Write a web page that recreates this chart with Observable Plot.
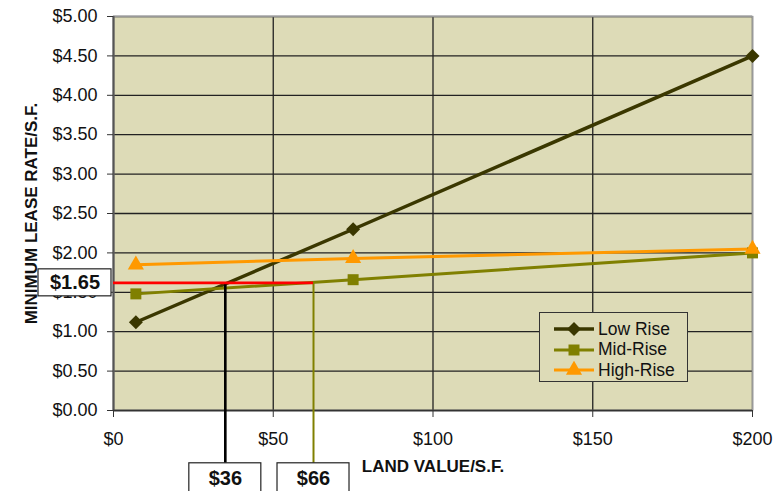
<!DOCTYPE html>
<html><head><meta charset="utf-8">
<script src="https://cdn.jsdelivr.net/npm/d3@7"></script>
<script src="https://cdn.jsdelivr.net/npm/@observablehq/plot@0.6"></script>
<style>
body{margin:0;background:#fff;font-family:"Liberation Sans",Arial,sans-serif}
#wrap{position:relative;width:783px;height:491px;overflow:hidden}
#legend{position:absolute;left:539px;top:312px;width:147px;height:68px;border:1px solid #333;background:#dddbb7;box-sizing:content-box}
#legend .row{position:absolute;left:14px;height:20px;display:flex;align-items:center;font-size:17.5px;color:#111}
#legend svg{margin-right:4px}
</style>
</head><body><div id="wrap"></div>
<script>
// ---- data ----
const landValues = [7, 75, 200];
const lowRise  = [1.12, 2.30, 4.50];
const midRise  = [1.48, 1.66, 2.00];
const highRise = [1.85, 1.93, 2.05];
const seriesNames  = ["Low Rise", "Mid-Rise", "High-Rise"];
const xTicks = [0, 50, 100, 150, 200];
const yTicks = [0, 0.5, 1, 1.5, 2, 2.5, 3, 3.5, 4, 4.5, 5];
const targetRate = 1.62;          // drawn level of the red reference line
const targetRateLabel = "$1.65";
const crossings = [35, 62.6];     // where the reference line meets Low / Mid rise
const crossingLabels = ["$36", "$66"];
const calloutDepth = -0.67;       // how far below the axis the drop lines reach

// ---- styles ----
const colors  = ["#3a3700", "#808000", "#ff9900"];
const symbols = ["diamond2", "square", "triangle"];
const radii   = [6.3, 6.2, 6];
const widths  = [3.5, 3, 3];
const bg = "#dddbb7";

const rows = [];
[lowRise, midRise, highRise].forEach((vals, s) =>
  vals.forEach((v, i) => rows.push({series: seriesNames[s], x: landValues[i], y: v})));

const fmt = d => "$" + d3.format(",.2f")(d);

function boxed(w, h, dx, dy) {
  return function(index, scales, values, dims, context, next) {
    const g = next(index, scales, values, dims, context);
    const ns = "http://www.w3.org/2000/svg";
    const grp = document.createElementNS(ns, "g");
    for (const i of index) {
      const r = document.createElementNS(ns, "rect");
      r.setAttribute("x", values.x[i] + dx - w / 2);
      r.setAttribute("y", values.y[i] + dy - h / 2);
      r.setAttribute("width", w);
      r.setAttribute("height", h);
      r.setAttribute("fill", "#fff");
      r.setAttribute("stroke", "#222");
      r.setAttribute("stroke-width", 1.2);
      grp.appendChild(r);
    }
    grp.appendChild(g);
    return grp;
  };
}

const dropLines = crossings.map((x, i) => ({x, label: crossingLabels[i], color: i === 0 ? "#000" : "#808000"}));

const chart = Plot.plot({
  width: 783, height: 491,
  marginLeft: 113, marginRight: 31, marginTop: 16, marginBottom: 81,
  style: {fontFamily: "Liberation Sans, Arial, sans-serif", fontSize: "18px", color: "#111", background: "#fff", overflow: "visible"},
  x: {domain: [0, 200]},
  y: {domain: [0, 5]},
  color: {domain: seriesNames, range: colors},
  marks: [
    Plot.frame({fill: bg, stroke: null}),
    Plot.gridX(xTicks, {stroke: "#222", strokeOpacity: 1, strokeWidth: 1.3}),
    Plot.gridY(yTicks, {stroke: "#222", strokeOpacity: 1, strokeWidth: 1.3}),
    Plot.frame({stroke: "#999", strokeWidth: 1.5}),
    Plot.ruleX([0], {stroke: "#555", strokeWidth: 2}),
    Plot.ruleY([0], {stroke: "#333", strokeWidth: 1.5}),
    Plot.axisX(xTicks, {tickFormat: d => "$" + d, tickSize: 7, tickPadding: 15, stroke: "#333", label: null, fontSize: 18}),
    Plot.axisY(yTicks, {tickFormat: fmt, tickSize: 6, tickPadding: 10, stroke: "#333", label: null, fontSize: 18}),
    // series
    ...seriesNames.map((name, s) =>
      Plot.line(rows.filter(d => d.series === name), {x: "x", y: "y", stroke: colors[s], strokeWidth: widths[s]})),
    ...seriesNames.map((name, s) =>
      Plot.dot(rows.filter(d => d.series === name), {x: "x", y: "y", symbol: () => symbols[s], r: radii[s], fill: colors[s], stroke: "none"})),
    // reference annotation
    Plot.ruleX(dropLines, {x: "x", y1: targetRate, y2: calloutDepth, stroke: "color", strokeWidth: d => d.color === "#000" ? 2.6 : 2}),
    Plot.ruleY([targetRate], {x1: 0, x2: crossings[1], stroke: "#ff0000", strokeWidth: 2.6}),
    Plot.text(dropLines, {x: "x", y: () => calloutDepth, text: "label", dy: 15, fontWeight: "bold", fontSize: 20, fill: "#111",
      render: boxed(72, 30, 0, 15)}),
    Plot.text([targetRateLabel], {x: () => 0, y: () => targetRate, text: d => d, dx: -38.5, fontWeight: "bold", fontSize: 20, fill: "#111",
      render: boxed(73, 27, -38.5, 0)}),
    // axis titles
    Plot.text(["MINIMUM LEASE RATE/S.F."], {frameAnchor: "left", dx: -82, rotate: -90, textAnchor: "middle", fontWeight: "bold", fontSize: 17, fill: "#111"}),
    Plot.text(["LAND VALUE/S.F."], {frameAnchor: "bottom", dy: 61, fontWeight: "bold", fontSize: 17, fill: "#111"})
  ]
});

const wrap = document.getElementById("wrap");
wrap.appendChild(chart);

// legend (inside plot area, as in the original)
const legend = d3.select(wrap).append("div").attr("id", "legend");
seriesNames.forEach((name, s) => {
  const row = legend.append("div").attr("class", "row").style("top", (6 + s * 20.5) + "px");
  const sv = row.append("svg").attr("width", 40).attr("height", 18);
  sv.append("line").attr("x1", 0).attr("x2", 40).attr("y1", 9).attr("y2", 9).attr("stroke", colors[s]).attr("stroke-width", widths[s]);
  sv.append("path").attr("transform", "translate(20,9)")
    .attr("d", d3.symbol(s === 0 ? d3.symbolDiamond2 : s === 1 ? d3.symbolSquare : d3.symbolTriangle, Math.PI * radii[s] * radii[s])())
    .attr("fill", colors[s]);
  row.append("span").text(name);
});
</script>
</body></html>
